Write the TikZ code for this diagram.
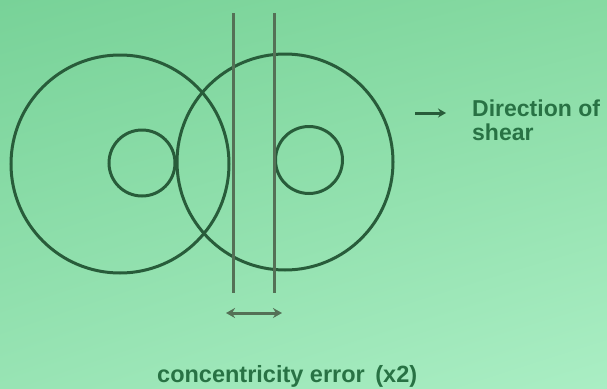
\documentclass[tikz,border=0pt]{standalone}
\usepackage{fontspec}
\setmainfont{Liberation Sans}
\usetikzlibrary{arrows.meta,shadings}
\definecolor{bgUL}{RGB}{120,210,152}
\definecolor{bgUR}{RGB}{134,218,162}
\definecolor{bgLL}{RGB}{152,228,180}
\definecolor{bgLR}{RGB}{170,238,196}
\definecolor{ringcol}{RGB}{40,92,58}
\definecolor{vlinecol}{RGB}{84,112,86}
\definecolor{txtcol}{RGB}{40,114,68}
\tikzset{
  ring/.style={circle, draw=ringcol, line width=3pt, inner sep=0pt, outer sep=0pt, fill=none},
  vline/.style={draw=vlinecol, line width=3pt},
  arr/.style={draw=ringcol, line width=3pt, -{Stealth[length=8pt,width=9pt]}},
  darr/.style={draw=vlinecol, line width=3pt, {Stealth[length=9pt,width=10pt]}-{Stealth[length=9pt,width=10pt]}},
  lbl/.style={text=txtcol, font=\bfseries\fontsize{23}{21}\selectfont, inner sep=0pt, anchor=base west}
}
\begin{document}
\begin{tikzpicture}[x=1pt,y=-1pt]
\useasboundingbox (0,0) rectangle (607,388);
\shade[upper left=bgUL, upper right=bgUR, lower left=bgLL, lower right=bgLR] (0,0) rectangle (607,388);
% big rings
\node[ring, minimum size=218pt] (L) at (120,164) {};
\node[ring, minimum size=216pt] (R) at (285,162) {};
% small rings
\node[ring, minimum size=66pt] (l) at (142,163) {};
\node[ring, minimum size=67pt] (r) at (309,160) {};
% vertical lines
\coordinate (v1t) at (233,13);
\coordinate (v1b) at (233,293);
\coordinate (v2t) at (274,13);
\coordinate (v2b) at (274,293);
\draw[vline] (v1t) -- (v1b);
\draw[vline] (v2t) -- (v2b);
% double arrow
\coordinate (da) at (226,313);
\coordinate (db) at (282,313);
\draw[darr] (da) -- (db);
% direction arrow
\coordinate (sa) at (415,113);
\coordinate (sb) at (446,113);
\draw[arr] (sa) -- (sb);
% labels
\node[lbl] (dir) at (472,116) {Direction of};
\node[lbl] (shr) at (472,140) {shear};
\node[lbl, font=\bfseries\fontsize{23.5}{21}\selectfont] (ce) at (157,382) {concentricity error\hspace{0.45em}(x2)};
\end{tikzpicture}
\end{document}
